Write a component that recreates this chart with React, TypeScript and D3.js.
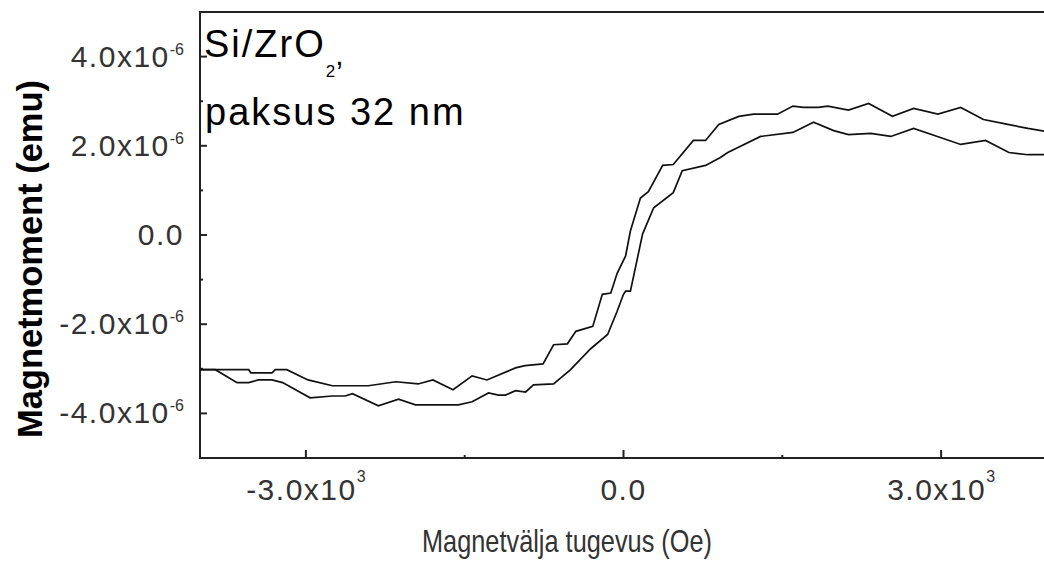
import React, { useEffect, useRef } from "react"
import * as d3 from "d3"

// ---------- Data (field in Oe, moment in 1e-6 emu) ----------
const upperBranch: [number, number][] = [
    [-4000, -3.02], [-3540, -3.02], [-3520, -3.09], [-3320, -3.09], [-3290, -3.02], [-3180, -3.02],
    [-2980, -3.25], [-2750, -3.38], [-2410, -3.38], [-2150, -3.29], [-1940, -3.34], [-1800, -3.25],
    [-1610, -3.47], [-1430, -3.16], [-1290, -3.25], [-1020, -2.98], [-930, -2.93], [-760, -2.89],
    [-660, -2.46], [-530, -2.44], [-450, -2.16], [-290, -2.05], [-200, -1.33], [-120, -1.30],
    [-60, -0.86], [20, -0.47], [65, 0.09], [160, 0.83], [235, 0.97], [370, 1.56], [470, 1.58],
    [660, 2.12], [775, 2.12], [900, 2.48], [1090, 2.66], [1230, 2.71], [1455, 2.71], [1600, 2.89],
    [1700, 2.86], [1840, 2.86], [1930, 2.89], [2125, 2.80], [2315, 2.95], [2540, 2.66], [2740, 2.84],
    [2970, 2.71], [3185, 2.86], [3400, 2.59], [3630, 2.48], [3820, 2.39], [4000, 2.32]
]

const lowerBranch: [number, number][] = [
    [-4000, -3.02], [-3855, -3.02], [-3650, -3.31], [-3540, -3.31], [-3450, -3.25], [-3320, -3.25],
    [-3220, -3.31], [-2960, -3.65], [-2750, -3.61], [-2630, -3.61], [-2560, -3.56], [-2315, -3.83],
    [-2125, -3.68], [-1965, -3.81], [-1560, -3.81], [-1430, -3.74], [-1275, -3.54], [-1180, -3.59],
    [-1115, -3.59], [-1020, -3.49], [-925, -3.52], [-850, -3.36], [-660, -3.34], [-500, -3.02],
    [-310, -2.55], [-150, -2.23], [-60, -1.71], [0, -1.33], [20, -1.26], [65, -1.26], [85, -1.04],
    [180, 0.02], [285, 0.61], [470, 0.95], [555, 1.44], [775, 1.56], [915, 1.74], [985, 1.85],
    [1295, 2.21], [1600, 2.30], [1795, 2.53], [1985, 2.34], [2125, 2.25], [2335, 2.28], [2525, 2.21],
    [2740, 2.39], [2965, 2.21], [3185, 2.03], [3420, 2.12], [3640, 1.85], [3820, 1.80], [4000, 1.80]
]

const xMajorTicks = [-3000, 0, 3000]
const xMinorTicks = [-1500, 1500]
const yMajorTicks = [-4, -2, 0, 2, 4]
const yMinorTicks = [-3, -1, 1, 3]

const xTitle = "Magnetvälja tugevus (Oe)"
const yTitle = "Magnetmoment (emu)"

// ---------- Layout ----------
const W = 1044
const H = 561
const FONT = "'Liberation Sans', Arial, sans-serif"

const App: React.FC = () => {
    const svgRef = useRef<SVGSVGElement>(null)

    useEffect(() => {
        if (!svgRef.current) return
        const svg = d3.select(svgRef.current)
        svg.selectAll("*").remove()

        const x = d3.scaleLinear().domain([-4000, 4000]).range([200, 1047])
        const y = d3.scaleLinear().domain([-5, 5]).range([458, 12])

        // frame (right side falls outside the picture)
        svg.append("rect")
            .attr("x", x(-4000)).attr("y", y(5))
            .attr("width", x(4000) - x(-4000)).attr("height", y(-5) - y(5))
            .attr("fill", "none").attr("stroke", "#222").attr("stroke-width", 2)

        // ticks, pointing inward
        const tickLine = (g: any, x1: number, y1: number, x2: number, y2: number) =>
            g.append("line").attr("x1", x1).attr("y1", y1).attr("x2", x2).attr("y2", y2)
                .attr("stroke", "#222").attr("stroke-width", 2)
        const ticks = svg.append("g")
        yMajorTicks.forEach(v => tickLine(ticks, 200, y(v), 207, y(v)))
        yMinorTicks.forEach(v => tickLine(ticks, 200, y(v), 203, y(v)))
        xMajorTicks.forEach(v => tickLine(ticks, x(v), 458, x(v), 450))
        xMinorTicks.forEach(v => tickLine(ticks, x(v), 458, x(v), 455))

        // tick labels with superscript exponents
        const sciLabel = (t: any, v: number, scale: number, exp: string, supDy: number) => {
            if (v === 0) { t.append("tspan").text("0.0"); return }
            t.append("tspan").text(`${(v / scale).toFixed(1)}x10`)
            t.append("tspan").attr("dy", supDy).attr("font-size", 16).attr("letter-spacing", 0).text(exp)
        }

        yMajorTicks.forEach(v => {
            const t = svg.append("text")
                .attr("x", 184).attr("y", y(v) + 10)
                .attr("text-anchor", "end")
                .attr("font-family", FONT).attr("font-size", 30)
                .attr("letter-spacing", 1.5).attr("fill", "#333")
            sciLabel(t, v, 1, "-6", -12)
        })

        xMajorTicks.forEach(v => {
            const t = svg.append("text")
                .attr("x", x(v)).attr("y", 500)
                .attr("text-anchor", "middle")
                .attr("font-family", FONT).attr("font-size", 30)
                .attr("letter-spacing", 1.5).attr("fill", "#333")
            sciLabel(t, v, 1000, "3", -18)
        })

        // curves
        const line = d3.line<[number, number]>()
            .x(d => x(d[0]))
            .y(d => y(d[1]))
        ;[upperBranch, lowerBranch].forEach(series => {
            svg.append("path")
                .attr("d", line(series) ?? "")
                .attr("fill", "none")
                .attr("stroke", "#111")
                .attr("stroke-width", 1.7)
                .attr("stroke-linejoin", "miter")
        })

        // axis titles
        svg.append("text")
            .attr("x", 567).attr("y", 552)
            .attr("text-anchor", "middle")
            .attr("font-family", FONT).attr("font-size", 32)
            .attr("textLength", 290).attr("lengthAdjust", "spacingAndGlyphs")
            .attr("fill", "#333")
            .text(xTitle)

        svg.append("text")
            .attr("transform", "translate(42,259) rotate(-90)")
            .attr("text-anchor", "middle")
            .attr("font-family", FONT).attr("font-size", 35).attr("font-weight", "bold")
            .attr("textLength", 358).attr("lengthAdjust", "spacingAndGlyphs")
            .attr("fill", "#000")
            .text(yTitle)

        // sample annotation
        const ann = svg.append("g")
            .attr("font-family", FONT).attr("font-size", 38).attr("fill", "#000")
            .attr("letter-spacing", 2)
        const first = ann.append("text").attr("x", 204).attr("y", 57)
        first.append("tspan").text("Si/ZrO")
        first.append("tspan").attr("dy", 20).attr("font-size", 17).attr("letter-spacing", 0).text("2")
        first.append("tspan").attr("dy", -12).attr("font-size", 30).text(",")
        ann.append("text").attr("x", 205).attr("y", 125).text("paksus 32 nm")
    }, [])

    return (
        <svg
            ref={svgRef}
            width={W}
            height={H}
            style={{ position: "absolute", left: 0, top: 0, background: "#fff" }}
        />
    )
}

export default App
